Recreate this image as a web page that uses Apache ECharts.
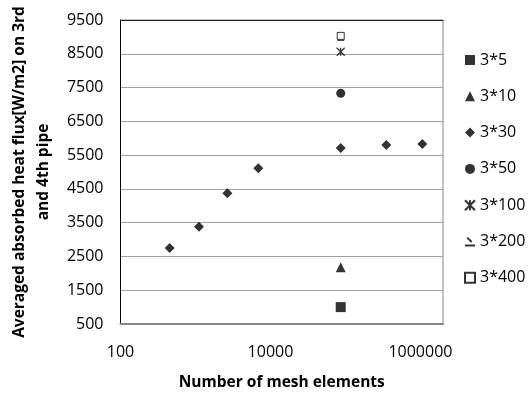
<!DOCTYPE html>
<html>
<head>
<meta charset="utf-8">
<script src="https://cdn.jsdelivr.net/npm/echarts@6/dist/echarts.min.js"></script>
<style>html,body{margin:0;padding:0;background:#fff;}#c{width:532px;height:397px;}</style>
</head>
<body>
<div id="c"></div>
<script>
// Data
const seriesNames = ['3*5', '3*10', '3*30', '3*50', '3*100', '3*200', '3*400'];
const mesh30 = [453, 1114, 2662, 6890, 86500, 351000, 1060000];
const flux30 = [2750, 3380, 4370, 5110, 5710, 5800, 5830];
const meshOther = 86500;
const flux5 = [1000];
const flux10 = [2180];
const flux50 = [7330];
const flux100 = [8560];
const flux200 = [9000];
const flux400 = [9030];
const xTickLabels = [100, 10000, 1000000];
const yTickMin = 500, yTickMax = 9500, yTickStep = 1000;

const FONT = 'Open Sans';
function pts(xs, ys) { return xs.map((x, i) => [x, ys[i]]); }
const starPath = 'path://M0,0L10,10M10,0L0,10M5,0L5,10';
const oddPath = 'path://M2,2L6,6M0,9L9,9';

const mk = (name, data, symbol, size, style) => ({
  name, type: 'scatter', data, symbol, symbolSize: size,
  itemStyle: style, emphasis: { disabled: true }
});

const chart = echarts.init(document.getElementById('c'), null, { renderer: 'canvas' });
chart.setOption({
  animation: false,
  backgroundColor: '#fff',
  textStyle: { fontFamily: FONT },
  grid: { left: 113, right: 89, top: 20, bottom: 73, show: true, borderColor: '#868686', borderWidth: 1 },
  legend: {
    orient: 'vertical', left: 459, top: 44, itemGap: 14.3, itemWidth: 10, itemHeight: 10,
    data: seriesNames,
    textStyle: { fontFamily: FONT, fontSize: 16, color: '#000', lineHeight: 22 }
  },
  xAxis: [{
    type: 'log', logBase: 10, min: 100, max: 2000000,
    name: 'Number of mesh elements', nameLocation: 'middle', nameGap: 51,
    nameTextStyle: { fontFamily: FONT, fontWeight: 'bold', fontSize: 15.5, color: '#000' },
    axisLine: { show: true, lineStyle: { color: '#868686', width: 2 } },
    axisTick: { show: false },
    splitLine: { show: false },
    minorTick: { show: false },
    axisLabel: {
      margin: 20, fontFamily: FONT, fontSize: 16, color: '#000', showMaxLabel: false,
      formatter: v => {
        const m = xTickLabels.find(t => Math.abs(Math.log10(t) - Math.log10(v)) < 1e-6);
        return m !== undefined ? String(m) : '';
      }
    }
  }, {
    type: 'value', position: 'top', min: 0, max: 1,
    axisLine: { show: true, onZero: false, lineStyle: { color: '#222', width: 1 } },
    axisTick: { show: false }, axisLabel: { show: false }, splitLine: { show: false }
  }],
  yAxis: {
    type: 'value', min: yTickMin, max: yTickMax, interval: yTickStep,
    name: 'Averaged absorbed heat flux[W/m2] on 3rd\nand 4th pipe',
    nameLocation: 'middle', nameGap: 60,
    nameTextStyle: { fontFamily: FONT, fontWeight: 'bold', fontSize: 15.5, color: '#000', lineHeight: 24 },
    axisLine: { show: true, lineStyle: { color: '#000', width: 1 } },
    axisTick: { show: false },
    splitLine: { show: true, lineStyle: { color: '#a0a0a0', width: 1 } },
    axisLabel: { margin: 17, fontFamily: FONT, fontSize: 16, color: '#000', formatter: v => String(v) }
  },
  series: [
    mk('3*5', pts([meshOther], flux5), 'rect', 10, { color: '#000' }),
    mk('3*10', pts([meshOther], flux10), 'triangle', 10, { color: '#000' }),
    mk('3*30', pts(mesh30, flux30), 'diamond', 10, { color: '#000' }),
    mk('3*50', pts([meshOther], flux50), 'circle', 9, { color: '#000' }),
    mk('3*100', pts([meshOther], flux100), starPath, 8, { color: 'rgba(0,0,0,0)', borderColor: '#000', borderWidth: 1.2 }),
    mk('3*200', pts([meshOther], flux200), oddPath, 7, { color: 'rgba(0,0,0,0)', borderColor: '#000', borderWidth: 1 }),
    mk('3*400', pts([meshOther], flux400), 'rect', 7, { color: '#fff', borderColor: '#000', borderWidth: 1 })
  ]
});
</script>
</body>
</html>
